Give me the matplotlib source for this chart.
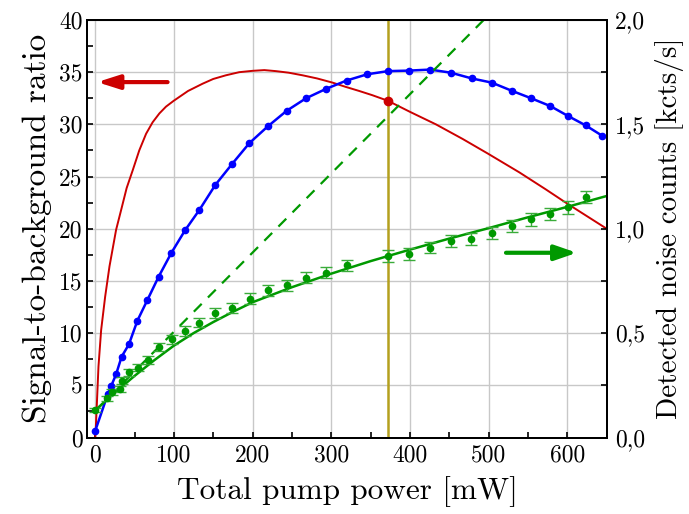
import matplotlib
matplotlib.use('Agg')
import matplotlib.pyplot as plt
from matplotlib.ticker import MultipleLocator

plt.rcParams['font.family'] = ['cmr10', 'DejaVu Serif']
plt.rcParams['axes.unicode_minus'] = False
plt.rcParams['mathtext.fontset'] = 'cm'

# signal-to-background ratio (model curve, left axis)
red_x = [0, 0.4, 2, 4.2, 7.6, 12.7, 18.2, 26.6, 33, 40, 47.7, 56, 64.7, 73, 81.6, 90, 99.8,
         118, 136.6, 150, 166, 183, 200, 215, 229.8, 246, 263.6, 282, 301.6, 318, 335.5,
         352, 372, 400, 433, 467, 499, 539, 572, 600, 625, 650]
red_y = [0, 0.24, 2.95, 6.8, 10.3, 13.5, 16.4, 19.9, 21.8, 23.9, 25.6, 27.5, 29.1, 30.2, 31.05,
         31.7, 32.26, 33.2, 33.9, 34.35, 34.7, 35.0, 35.13, 35.2, 35.1, 34.95, 34.7, 34.4,
         34.0, 33.6, 33.2, 32.8, 32.26, 31.2, 30.0, 28.6, 27.2, 25.4, 23.8, 22.4, 21.2, 20.0]

# blue measured points (left axis)
blue_x = [0, 16, 20.5, 26.6, 33.6, 42.9, 53.7, 66.2, 80.6, 96.9, 114.2, 132.4, 152.7, 173.9,
          195.9, 219.2, 243.3, 267.9, 293.3, 319.4, 345.7, 372, 398.3, 425.7, 452, 478.6,
          504, 530, 554, 578.4, 600.9, 623.3, 644.4]
blue_y = [0.62, 4.15, 4.96, 6.06, 7.74, 8.93, 11.2, 13.15, 15.4, 17.7, 19.85, 21.8, 24.2, 26.2,
          28.2, 29.8, 31.3, 32.5, 33.4, 34.2, 34.8, 35.1, 35.15, 35.25, 34.95, 34.4,
          34.0, 33.2, 32.5, 31.75, 30.8, 29.9, 28.9]

# green measured noise counts (right axis, kcts/s)
green_x = [0, 15, 22, 31.7, 34.3, 43.5, 54.3, 67.2, 80.6, 97.3, 114.3, 132.4, 152.7, 174.3,
           196.3, 219.6, 243.3, 268.3, 293.3, 319.4, 372, 398.3, 425.3, 451.5, 478.1, 504,
           529.4, 553.9, 578, 600.9, 623.3]
green_y = [0.13, 0.189, 0.218, 0.234, 0.273, 0.313, 0.334, 0.371, 0.435, 0.47, 0.51, 0.55,
           0.595, 0.62, 0.665, 0.705, 0.73, 0.765, 0.79, 0.825, 0.87, 0.88, 0.91, 0.94, 0.953,
           0.98, 1.013, 1.045, 1.07, 1.103, 1.153]
green_err = [0.01, 0.012, 0.013, 0.014, 0.015, 0.016, 0.017, 0.018, 0.02, 0.021, 0.022, 0.023,
             0.024, 0.024, 0.025, 0.025, 0.026, 0.026, 0.027, 0.027, 0.028, 0.028, 0.028,
             0.028, 0.029, 0.029, 0.029, 0.03, 0.03, 0.03, 0.03]

# green fit (solid) and linear extrapolation (dashed)
fit_x = [0, 25, 50, 75, 100, 125, 150, 175, 200, 250, 300, 350, 400, 450, 500, 550, 600, 650]
fit_y = [0.13, 0.215, 0.295, 0.37, 0.44, 0.5, 0.553, 0.602, 0.648, 0.72, 0.785, 0.845, 0.90,
         0.953, 1.003, 1.055, 1.105, 1.157]
lin_x = [0, 520]
lin_y = [0.127, 2.1]

working_power = 372
working_ratio = 32.26

red = '#cc0000'
blue = '#0000ff'
green = '#009900'
olive = '#b4a01e'

fig = plt.figure(figsize=(6.89, 5.14), dpi=100)
ax = fig.add_axes([0.1267, 0.1488, 0.8806 - 0.1267, 0.9611 - 0.1488])
ax2 = ax.twinx()

ax.plot(red_x, red_y, color=red, lw=1.4, zorder=3)
ax.plot([working_power], [working_ratio], 'o', color=red, ms=6, zorder=4)
ax.plot(blue_x, blue_y, '-o', color=blue, lw=1.8, ms=4.5, zorder=3)
ax.axvline(working_power, color=olive, lw=1.8, zorder=2)

ax2.plot(lin_x, lin_y, '--', color=green, lw=1.6, dashes=(5, 4))
ax2.plot(fit_x, fit_y, '-', color=green, lw=1.8)
ax2.errorbar(green_x, green_y, yerr=green_err, fmt='o', color=green, ms=4.5,
             ecolor='#3aac3a', elinewidth=1.0, capsize=4, capthick=1.0)

# arrows pointing to the axis each curve belongs to
ax.annotate('', xy=(2.5, 34.05), xytext=(92, 34.05),
            arrowprops=dict(arrowstyle='-|>,head_length=1.1,head_width=0.35',
                            color=red, lw=3, mutation_scale=12, shrinkA=0, shrinkB=0))
ax.annotate('', xy=(612, 17.7), xytext=(522, 17.7),
            arrowprops=dict(arrowstyle='-|>,head_length=1.1,head_width=0.38',
                            color=green, lw=3, mutation_scale=12, shrinkA=0, shrinkB=0))

ax.set_xlim(-10, 650)
ax.set_ylim(0, 40)
ax2.set_ylim(0, 2)

ax.xaxis.set_major_locator(MultipleLocator(100))
ax.xaxis.set_minor_locator(MultipleLocator(50))
ax.yaxis.set_major_locator(MultipleLocator(5))
ax.yaxis.set_minor_locator(MultipleLocator(2.5))
ax2.set_yticks([0, 0.5, 1.0, 1.5, 2.0])
ax2.set_yticklabels(['0,0', '0,5', '1,0', '1,5', '2,0'])
ax2.yaxis.set_minor_locator(MultipleLocator(0.25))

ax.grid(True, which='major', color='#c8c8c8', lw=1.0)
ax.set_axisbelow(True)

for a in (ax, ax2):
    a.tick_params(which='both', direction='in', length=4, width=1.2, labelsize=17)
    for s in a.spines.values():
        s.set_linewidth(1.4)
ax.tick_params(which='both', top=False, right=False)
ax.tick_params(axis='x', pad=5)
ax2.tick_params(axis='y', pad=6)

ax.set_xlabel('Total pump power [mW]', fontsize=22.5, labelpad=7)
ax.set_ylabel('Signal-to-background ratio', fontsize=24, labelpad=5)
ax2.set_ylabel('Detected noise counts [kcts/s]', fontsize=21, labelpad=7)

fig.savefig('out.png', dpi=100)
